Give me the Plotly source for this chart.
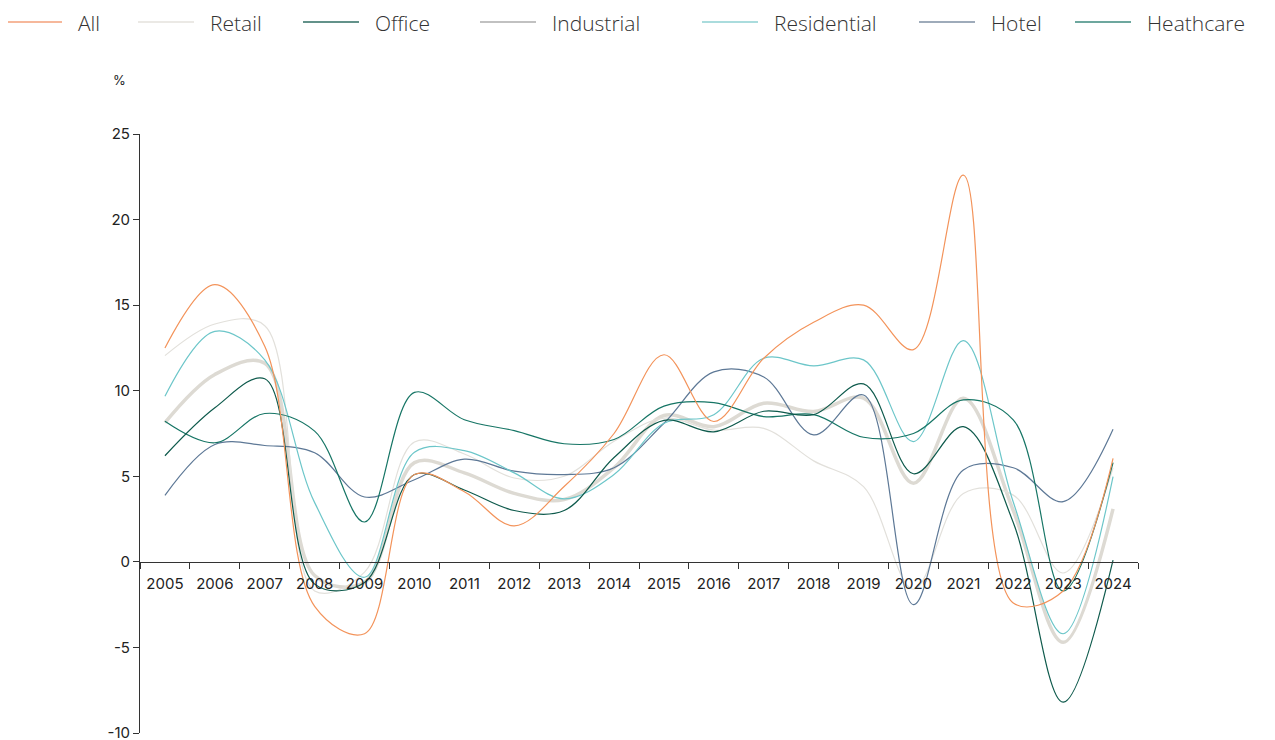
import plotly.graph_objects as go

years = [str(y) for y in range(2005, 2025)]

all_vals =        [12.5, 16.2, 12.6, -2.6, -4.2, 5.1, 4.1, 2.1, 4.4, 7.5, 12.1, 8.2, 11.9, 14.0, 15.0, 12.4, 22.6, -2.4, -1.7, 6.05]
retail_vals =     [12.05, 13.9, 13.8, -1.7, -0.6, 7.0, 6.3, 4.9, 5.0, 7.05, 8.4, 7.7, 7.8, 5.9, 4.4, -1.6, 4.0, 3.9, -0.65, 5.5]
office_vals =     [6.2, 9.0, 10.7, -1.3, -1.2, 5.1, 4.2, 3.0, 3.0, 6.1, 8.27, 7.6, 8.8, 8.6, 10.4, 5.15, 7.9, 2.3, -8.2, 0.1]
industrial_vals = [8.13, 10.95, 11.6, -0.8, -1.2, 5.8, 5.2, 4.0, 3.64, 5.5, 8.55, 7.9, 9.27, 8.78, 9.56, 4.6, 9.56, 3.0, -4.7, 3.1]
residential_vals = [9.68, 13.47, 11.8, 3.46, -0.9, 6.4, 6.5, 5.2, 3.68, 5.1, 8.1, 8.6, 11.9, 11.45, 11.8, 7.03, 12.93, 3.5, -4.2, 4.98]
hotel_vals =      [3.89, 6.86, 6.8, 6.38, 3.79, 4.8, 6.0, 5.3, 5.1, 5.5, 8.1, 11.1, 10.8, 7.42, 9.75, -2.5, 5.37, 5.5, 3.52, 7.75]
healthcare_vals = [8.22, 6.96, 8.67, 7.64, 2.33, 9.9, 8.3, 7.67, 6.9, 7.15, 9.1, 9.3, 8.49, 8.6, 7.28, 7.5, 9.46, 8.3, -1.7, 5.8]

y_ticks = [-10, -5, 0, 5, 10, 15, 20, 25]

# name, values, line colour, width, legend colour
series = [
    ("All", all_vals, "#F3935A", 1.2, "#F3A07A"),
    ("Retail", retail_vals, "#E2E0DB", 1.2, "#E4E2DD"),
    ("Office", office_vals, "#0E5A4C", 1.2, "#2F6E63"),
    ("Industrial", industrial_vals, "#DDDAD3", 3.5, "#ADADAD"),
    ("Residential", residential_vals, "#6CC6C9", 1.2, "#8ED0D2"),
    ("Hotel", hotel_vals, "#5D7896", 1.2, "#7E8FA3"),
    ("Heathcare", healthcare_vals, "#167565", 1.2, "#3C8A7E"),
]
# legend text left positions (screen px)
legend_text_x = [77, 209, 374, 551, 773, 990, 1146]

draw_order = ["Industrial", "Retail", "Hotel", "Residential", "Heathcare", "Office", "All"]

fig = go.Figure()
lookup = {s[0]: s for s in series}
for name in draw_order:
    n, vals, col, w, _ = lookup[name]
    fig.add_trace(go.Scatter(
        x=years, y=vals, mode="lines", name=n, showlegend=False,
        line=dict(color=col, width=w, shape="spline", smoothing=1.0),
        hoverinfo="x+y+name",
    ))

OFF = 8  # page body margin
W, H = 1275, 740
L, T = 140 - OFF, 134 - OFF
R = W - (1138 - OFF)
B = H - (733 - OFF)
pw = W - L - R
ph = H - T - B

def px_x(p):
    return (p - OFF - L) / pw

def px_y(p):
    return 1 + (T - (p - OFF)) / ph

shapes = []
annotations = []
ly = 22
for (n, vals, col, w, lcol), tx in zip(series, legend_text_x):
    shapes.append(dict(type="line", xref="paper", yref="paper",
                       x0=px_x(tx - 71), x1=px_x(tx - 15), y0=px_y(ly), y1=px_y(ly),
                       line=dict(color=lcol, width=1.5)))
    annotations.append(dict(text=n, xref="paper", yref="paper", x=px_x(tx - 1), y=px_y(ly + 1),
                            xanchor="left", yanchor="middle", showarrow=False,
                            font=dict(size=21, color="#333", family="Open Sans, sans-serif", weight=300)))

annotations.append(dict(
    text="%", xref="paper", yref="paper", x=px_x(119), y=px_y(80),
    showarrow=False, font=dict(size=13, color="#222"), xanchor="center", yanchor="middle",
))

fig.update_layout(
    width=W, height=H,
    margin=dict(l=L, r=R, t=T, b=B, autoexpand=False),
    paper_bgcolor="white", plot_bgcolor="white",
    font=dict(family="Inter, Roboto, sans-serif", color="#222"),
    showlegend=False,
    xaxis=dict(
        type="category", range=[-0.5, 19.5], tickson="boundaries",
        showgrid=False, showline=True, linecolor="#333", linewidth=1,
        ticks="outside", ticklen=6, tickcolor="#333", ticklabelstandoff=8,
        tickfont=dict(size=15, color="#222"),
        anchor="free", position=10 / 35, zeroline=False, fixedrange=True,
        automargin=False,
    ),
    yaxis=dict(
        range=[-10, 25], tickvals=y_ticks, ticktext=[str(v) for v in y_ticks],
        showgrid=False, showline=True, linecolor="#333", linewidth=1,
        ticks="outside", ticklen=6, tickcolor="#333",
        tickfont=dict(size=15, color="#222"), zeroline=False, fixedrange=True,
        automargin=False,
    ),
    shapes=shapes,
    annotations=annotations,
)

fig.write_html("out.html")
